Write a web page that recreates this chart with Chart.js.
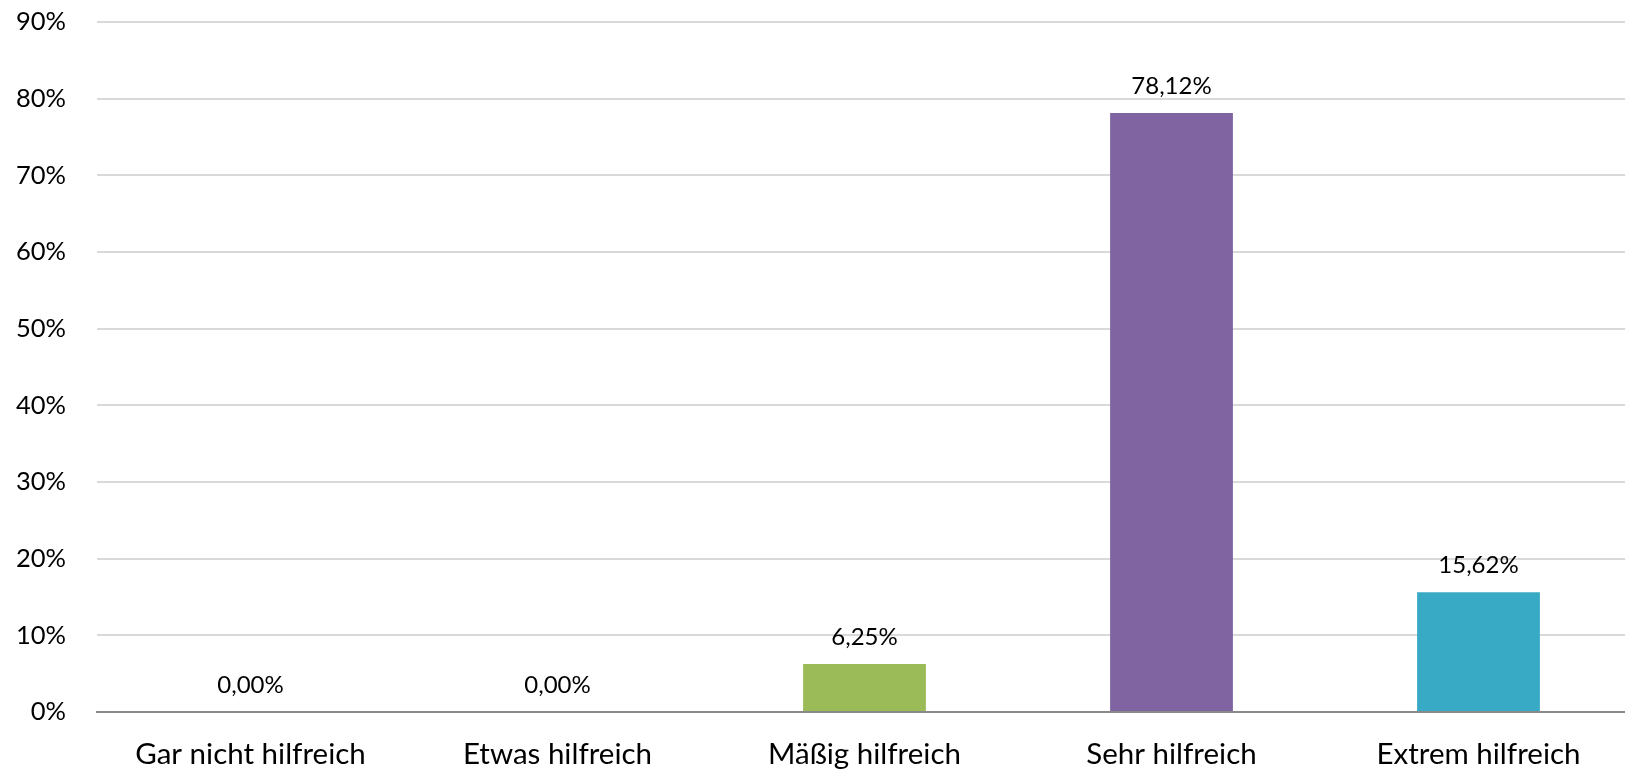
<!DOCTYPE html>
<html>
<head>
<meta charset="utf-8">
<script src="https://cdn.jsdelivr.net/npm/chart.js@4"></script>
<style>
  html, body { margin: 0; padding: 0; background: #fff; overflow: hidden; }
  #wrap { width: 1640px; height: 771px; }
</style>
</head>
<body>
<div id="wrap"><canvas id="chart"></canvas></div>
<script>
const categories = ['Gar nicht hilfreich', 'Etwas hilfreich', 'Mäßig hilfreich', 'Sehr hilfreich', 'Extrem hilfreich'];
const values = [0, 0, 6.25, 78.12, 15.62];
const barColors = ['#4F81BD', '#C0504D', '#9BBB59', '#8064A2', '#38AAC5'];
const yTicks = [0, 10, 20, 30, 40, 50, 60, 70, 80, 90];

const fontFamily = 'Lato, "Open Sans", sans-serif';

// Werte über den Balken
const valueLabels = {
    id: 'valueLabels',
    afterDatasetsDraw(chart) {
        const ctx = chart.ctx;
        const meta = chart.getDatasetMeta(0);
        ctx.save();
        ctx.font = '24px ' + fontFamily;
        ctx.fillStyle = '#000';
        ctx.textAlign = 'center';
        ctx.textBaseline = 'middle';
        meta.data.forEach((bar, i) => {
            const txt = values[i].toFixed(2).replace('.', ',') + '%';
            ctx.fillText(txt, bar.x, bar.y - 27);
        });
        ctx.restore();
    }
};

new Chart(document.getElementById('chart').getContext('2d'), {
    type: 'bar',
    data: {
        labels: categories,
        datasets: [{
            data: values,
            backgroundColor: barColors,
            barPercentage: 0.4,
            categoryPercentage: 1
        }]
    },
    options: {
        responsive: true,
        maintainAspectRatio: false,
        animation: false,
        layout: { padding: { top: 22, right: 8, left: 0, bottom: 0 } },
        plugins: { legend: { display: false }, tooltip: { enabled: false } },
        scales: {
            x: {
                grid: { display: false },
                border: { display: true, color: '#898989', width: 2 },
                ticks: { color: '#000', font: { family: fontFamily, size: 29.5 }, padding: 17, maxRotation: 0 },
                afterFit(scale) { scale.height = 59; }
            },
            y: {
                min: 0,
                max: 90,
                afterBuildTicks(scale) { scale.ticks = yTicks.map(v => ({ value: v })); },
                grid: {
                    drawTicks: false,
                    lineWidth: 2,
                    color: c => c.tick && c.tick.value === 0 ? '#898989' : '#d9d9d9'
                },
                border: { display: false },
                ticks: {
                    color: '#000',
                    padding: 31,
                    font: { family: fontFamily, size: 25.5 },
                    callback: v => v + '%'
                },
                afterFit(scale) { scale.width = 97; scale.paddingTop = 0; scale.paddingBottom = 0; }
            }
        }
    },
    plugins: [valueLabels]
});
</script>
</body>
</html>
